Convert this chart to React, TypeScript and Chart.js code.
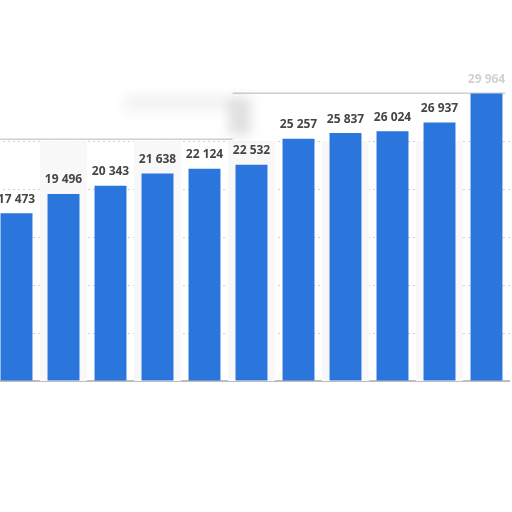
import { useEffect, useRef } from "react";
import { Chart, registerables } from "chart.js";

Chart.register(...registerables);

const categories = ["1", "2", "3", "4", "5", "6", "7", "8", "9", "10", "11"];
const values = [17473, 19496, 20343, 21638, 22124, 22532, 25257, 25837, 26024, 26937, 29964];
const yTicks = [0, 5000, 10000, 15000, 20000, 25000];

const fmt = (v: number) => String(v).replace(/\B(?=(\d{3})+(?!\d))/g, " ");

const decorPlugin = {
  id: "decor",
  beforeDatasetsDraw(chart: any) {
    const { ctx, chartArea, scales } = chart;
    const x = scales.x;
    const y = scales.y;
    const top = y.getPixelForValue(25000);
    const step = x.getPixelForValue(1) - x.getPixelForValue(0);
    ctx.save();
    ctx.fillStyle = "#f8f8f8";
    categories.forEach((_, i) => {
      if (i % 2 === 1) {
        const cx = x.getPixelForValue(i);
        ctx.fillRect(cx - step / 2, top, step, chartArea.bottom - top);
      }
    });
    // panel edge lines (top of the plot frame)
    ctx.strokeStyle = "#cfcfcf";
    ctx.lineWidth = 1.5;
    ctx.beginPath();
    const leftEnd = x.getPixelForValue(4.6);
    ctx.moveTo(chartArea.left, top - 2);
    ctx.lineTo(leftEnd, top - 2);
    ctx.stroke();
    const upper = y.getPixelForValue(30000);
    ctx.beginPath();
    ctx.moveTo(leftEnd, upper);
    ctx.lineTo(x.getPixelForValue(10.4), upper);
    ctx.stroke();
    // soft blurred overlay
    ctx.filter = "blur(6px)";
    ctx.fillStyle = "rgba(0,0,0,0.12)";
    ctx.fillRect(leftEnd - 4, upper + 4, 22, top - upper - 10);
    ctx.fillStyle = "rgba(0,0,0,0.05)";
    ctx.fillRect(x.getPixelForValue(2.3), upper + 2, leftEnd - x.getPixelForValue(2.3), 16);
    ctx.restore();
  },
  afterDatasetsDraw(chart: any) {
    const { ctx } = chart;
    const meta = chart.getDatasetMeta(0);
    ctx.save();
    ctx.font = "bold 12px 'Open Sans', sans-serif";
    ctx.fillStyle = "#454545";
    ctx.textAlign = "center";
    ctx.textBaseline = "bottom";
    meta.data.forEach((bar: any, i: number) => {
      if (i === values.length - 1) ctx.fillStyle = "rgba(120,120,120,0.35)";
      ctx.fillText(fmt(values[i]), bar.x, bar.y - 8);
    });
    ctx.restore();
  },
};

export default function App() {
  const canvasRef = useRef<HTMLCanvasElement>(null);
  const chartRef = useRef<Chart | null>(null);

  useEffect(() => {
    if (!canvasRef.current) return;
    chartRef.current?.destroy();
    chartRef.current = new Chart(canvasRef.current, {
      type: "bar",
      data: {
        labels: categories,
        datasets: [
          {
            data: values,
            backgroundColor: "#2a76dc",
            borderWidth: 0,
            categoryPercentage: 1,
            barPercentage: 0.68,
          },
        ],
      },
      options: {
        animation: false,
        responsive: true,
        maintainAspectRatio: false,
        layout: { padding: { top: 26, bottom: 131, left: 0, right: 0 } },
        plugins: { legend: { display: false }, tooltip: { enabled: false } },
        scales: {
          x: {
            ticks: { display: false },
            grid: { display: false, drawTicks: false },
            border: { display: true, color: "#bdbdbd", width: 2 },
          },
          y: {
            min: 0,
            max: 37000,
            afterBuildTicks: (axis: any) => {
              axis.ticks = yTicks.map((v) => ({ value: v }));
            },
            ticks: { display: false },
            grid: {
              drawTicks: false,
              color: (c: any) => (c.tick && c.tick.value > 0 ? "#d0d0d0" : "transparent"),
              lineWidth: 1,
            },
            border: { display: false, dash: [2, 3] },
          },
        },
      },
      plugins: [decorPlugin],
    });
    return () => {
      chartRef.current?.destroy();
      chartRef.current = null;
    };
  }, []);

  return (
    <div style={{ position: "fixed", left: -7, top: 0, width: 517, height: 512, background: "#fff" }}>
      <canvas ref={canvasRef} role="img" aria-label="Bar chart of values rising from 17 473 to 29 964" />
    </div>
  );
}
